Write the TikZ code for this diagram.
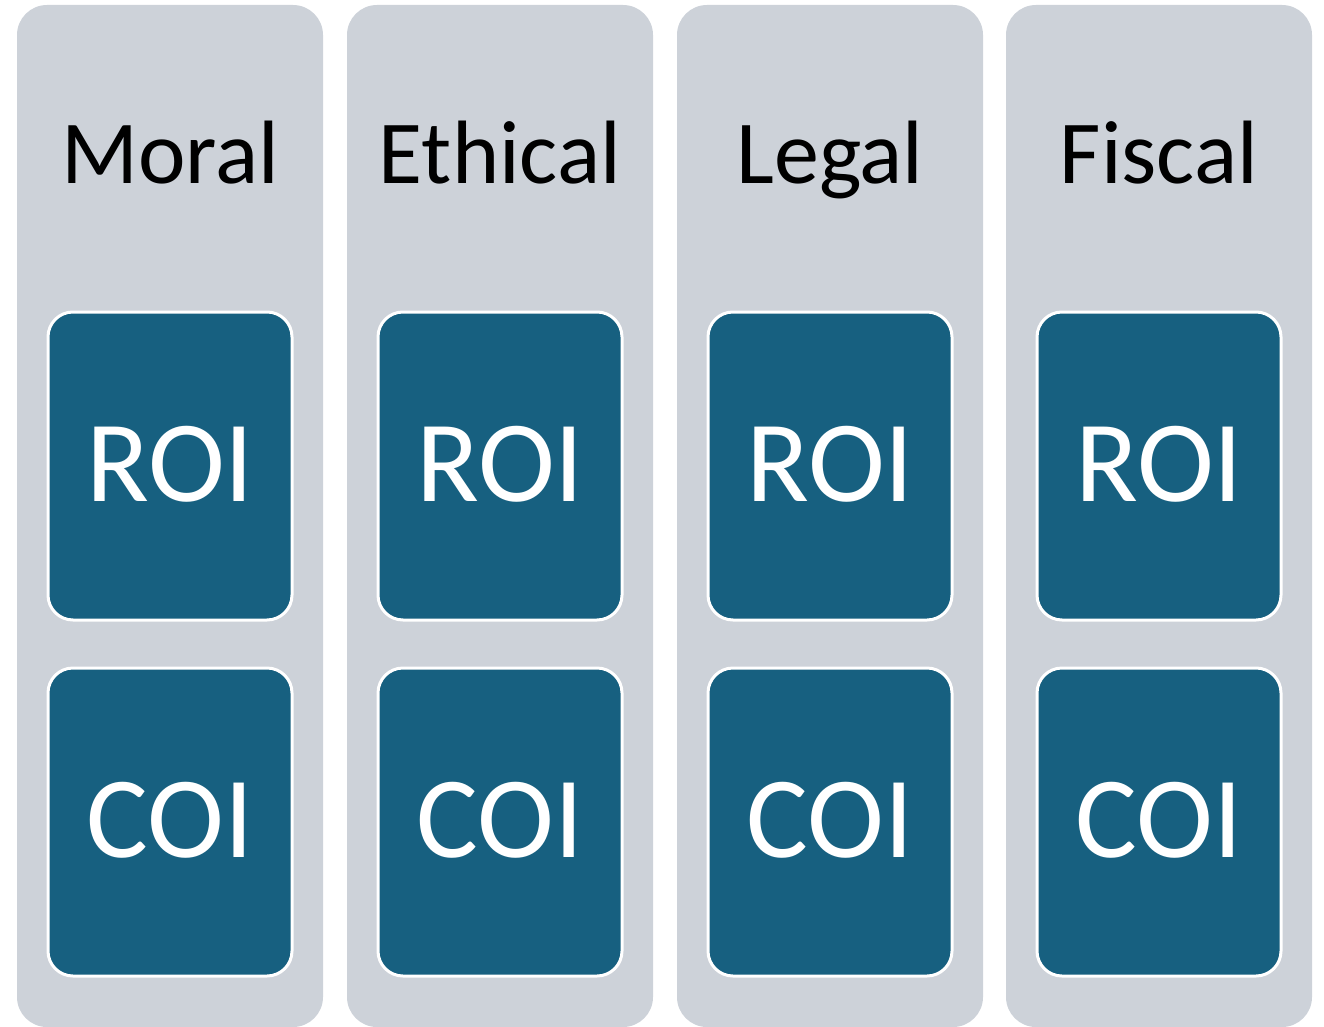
\documentclass[tikz,border=0pt]{standalone}
\usepackage{fontspec}
\setmainfont{Carlito}
\usetikzlibrary{positioning}
\definecolor{pillarGray}{RGB}{205,210,217}
\definecolor{boxBlue}{RGB}{23,96,128}
\newcommand{\pillar}[3]{%%
  %% The gray column.
  \node[pillarStyle] (#2) at (#1,\pillarMid) {};
  %% Its heading.
  \node[headStyle] (#2Head) at (#1,\headBase) {#3};
  %% Return and cost boxes.
  \node[boxStyle] (#2Roi) at (#1,\roiMid) {ROI};
  \node[boxStyle] (#2Coi) at (#1,\coiMid) {COI};
}

\begin{document}
\begin{tikzpicture}[%%
  x=1pt,y=-1pt,%%
  pillarStyle/.style={fill=pillarGray,rounded corners=30pt,inner sep=0pt,minimum width=306pt,minimum height=1022pt},%%
  headStyle/.style={anchor=base,inner sep=0pt,font=\fontsize{90}{90}\selectfont,text=black},%%
  boxStyle/.style={fill=boxBlue,draw=white,line width=3pt,rounded corners=25pt,inner sep=0pt,minimum width=244pt,minimum height=308pt,text=white,font=\fontsize{116}{116}\selectfont,text height=70pt,text depth=0pt}
]
%%
%%
\pgfmathsetmacro{\pillarMid}{516}
\pgfmathsetmacro{\headBase}{184}
\pgfmathsetmacro{\roiMid}{466}
\pgfmathsetmacro{\coiMid}{822}
\useasboundingbox (0,0) rectangle (1324,1027);
%%
%%
%% Four pillars side by side.
\pillar{170}{moral}{Moral}
\pillar{500}{ethical}{Ethical}
\pillar{830}{legal}{Legal}
\pillar{1159}{fiscal}{Fiscal}
\end{tikzpicture}
\end{document}
